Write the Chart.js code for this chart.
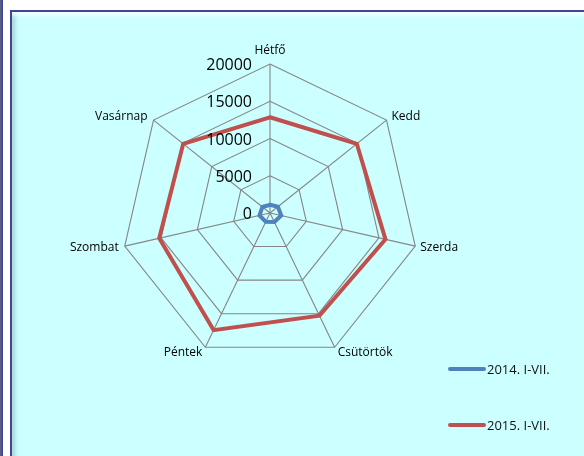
<!DOCTYPE html>
<html lang="hu">
<head>
<meta charset="utf-8">
<title>Napok szerint</title>
<script src="https://cdn.jsdelivr.net/npm/chart.js@4.4.1/dist/chart.umd.min.js"></script>
<style>
  html, body { margin: 0; padding: 0; background: #fff; }
  body { width: 584px; height: 456px; position: relative; overflow: hidden; font-family: "Open Sans", sans-serif; }
  .strip { position: absolute; left: 0; top: 0; width: 3px; height: 456px; background: linear-gradient(to right, #5d6787, #3d3d95); }
  .box {
    position: absolute; left: 10px; top: 10px; width: 572px; height: 460px;
    border-left: 2px solid #42429a; border-top: 2px solid #42429a;
    background: #ccffff;
    box-shadow: inset 0 5px 4px -2px #f4ffff, inset 5px 0 4px -2px #9fd3d3;
  }
  .wrap { position: absolute; left: 13px; top: 12px; width: 571px; height: 444px; }
  #legend { position: absolute; left: 448px; top: 359px; margin: 0; padding: 0; list-style: none; }
  #legend li { display: flex; align-items: center; height: 20px; margin-bottom: 36px; }
  #legend .mark { display: inline-block; width: 38px; height: 4px; border-radius: 2px; }
  #legend .txt { margin-left: 1px; font-size: 13px; color: #111; white-space: nowrap; }
</style>
</head>
<body>
<div class="strip"></div>
<div class="box"></div>
<div class="wrap"><canvas id="radar"></canvas></div>
<ul id="legend"></ul>
<script>
// napok és a két időszak adatai
const days = ["Hétfő", "Kedd", "Szerda", "Csütörtök", "Péntek", "Szombat", "Vasárnap"];
const values2014 = [1100, 1350, 1550, 1350, 1300, 1450, 1300];
const values2015 = [12850, 14900, 15900, 15300, 17450, 15250, 14900];
const seriesNames = ["2014. I-VII.", "2015. I-VII."];
const tickValues = [0, 5000, 10000, 15000, 20000];

Chart.defaults.font.family = '"Open Sans", sans-serif';
Chart.defaults.color = "#000";

// tengelyfeliratok a függőleges tengely bal oldalán, napnevek Excel-szerűen a csúcsok mellett
const axisText = {
  id: "axisText",
  afterDraw(chart) {
    const r = chart.scales.r;
    const ctx = chart.ctx;
    ctx.save();
    ctx.fillStyle = "#000";

    ctx.font = '16px "Open Sans"';
    ctx.textAlign = "right";
    ctx.textBaseline = "middle";
    r.ticks.forEach(t => {
      const d = r.getDistanceFromCenterForValue(t.value);
      ctx.fillText(t.label, r.xCenter - 18, r.yCenter - d + 1.5);
    });

    ctx.font = '12px "Open Sans"';
    ctx.textBaseline = "alphabetic";
    days.forEach((day, i) => {
      const p = r.getPointPosition(i, r.drawingArea);
      const a = r.getIndexAngle(i);
      const sin = Math.sin(a), cos = Math.cos(a);
      let dx = 0, dy;
      if (cos > 0.9) dy = -10.5;
      else if (cos > 0.3) dy = 0;
      else if (cos > -0.5) dy = 4.5;
      else dy = 9;
      if (Math.abs(sin) < 0.1) ctx.textAlign = "center";
      else if (sin > 0) { ctx.textAlign = "left"; dx = cos < -0.5 ? 3 : 5; }
      else { ctx.textAlign = "right"; dx = cos < -0.5 ? -3 : -6; }
      ctx.fillText(day, p.x + dx, p.y + dy);
    });
    ctx.restore();
  }
};

// HTML jelmagyarázat a chart saját elemeiből
const htmlLegend = {
  id: "htmlLegend",
  afterUpdate(chart) {
    const ul = document.getElementById("legend");
    const items = chart.options.plugins.legend.labels.generateLabels(chart);
    ul.innerHTML = items
      .map(it => `<li><span class="mark" style="background:${it.strokeStyle}"></span><span class="txt">${it.text}</span></li>`)
      .join("");
  }
};

new Chart(document.getElementById("radar"), {
  type: "radar",
  data: {
    labels: days,
    datasets: [
      {
        label: seriesNames[0],
        data: values2014,
        borderColor: "#4f81bd",
        backgroundColor: "#4f81bd",
        borderWidth: 4,
        pointRadius: 0,
        fill: false,
      },
      {
        label: seriesNames[1],
        data: values2015,
        borderColor: "#c0504d",
        backgroundColor: "#c0504d",
        borderWidth: 4,
        pointRadius: 0,
        fill: false,
      },
    ],
  },
  options: {
    responsive: true,
    maintainAspectRatio: false,
    animation: false,
    layout: { padding: { left: 57, right: 114, top: 52, bottom: 94 } },
    plugins: {
      legend: { display: false },
      tooltip: { enabled: false },
    },
    scales: {
      r: {
        min: tickValues[0],
        max: tickValues[tickValues.length - 1],
        afterBuildTicks: s => { s.ticks = tickValues.map(v => ({ value: v })); },
        ticks: { display: false, callback: v => String(v) },
        grid: { color: "#858585", lineWidth: 1.1, circular: false },
        angleLines: { color: "#858585", lineWidth: 1.1 },
        pointLabels: { display: false },
      },
    },
  },
  plugins: [axisText, htmlLegend],
});
</script>
</body>
</html>
